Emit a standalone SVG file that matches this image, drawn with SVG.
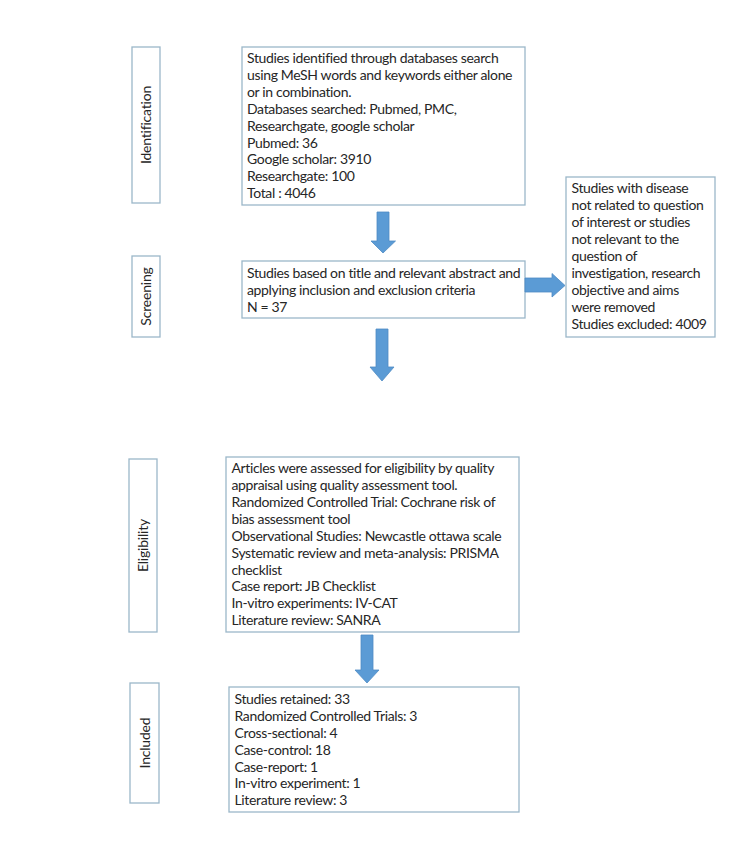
<svg xmlns="http://www.w3.org/2000/svg" width="750" height="844" viewBox="0 0 750 844">
<style>
.box{fill:#fff;stroke:#9BB7C9;stroke-width:1.3}
.t{font-family:Lato,"Liberation Sans",sans-serif;font-size:14px;letter-spacing:-0.35px;fill:#262626}
.lbl{font-family:Lato,"Liberation Sans",sans-serif;font-size:14px;letter-spacing:-0.2px;fill:#262626;text-anchor:middle}
.arr{fill:#5B9BD5;stroke:#4F8CC4;stroke-width:0.8}
</style>
<rect width="750" height="844" fill="#fff"/>
<g id="label-identification">
<rect class="box" x="132" y="47" width="28" height="156"/>
<text class="lbl" transform="translate(151,125) rotate(-90)">Identification</text>
</g>
<g id="label-screening">
<rect class="box" x="132" y="256" width="28" height="81"/>
<text class="lbl" transform="translate(151,296.5) rotate(-90)">Screening</text>
</g>
<g id="label-eligibility">
<rect class="box" x="129" y="459" width="28" height="173"/>
<text class="lbl" transform="translate(148,545.5) rotate(-90)">Eligibility</text>
</g>
<g id="label-included">
<rect class="box" x="130" y="683" width="29" height="120"/>
<text class="lbl" transform="translate(149.5,743) rotate(-90)">Included</text>
</g>
<g id="identified">
<rect class="box" x="242" y="47" width="283" height="158"/>
<text class="t" x="247" y="63">Studies identified through databases search</text>
<text class="t" x="247" y="79.9">using MeSH words and keywords either alone</text>
<text class="t" x="247" y="96.8">or in combination.</text>
<text class="t" x="247" y="113.7">Databases searched: Pubmed, PMC,</text>
<text class="t" x="247" y="130.6">Researchgate, google scholar</text>
<text class="t" x="247" y="147.5">Pubmed: 36</text>
<text class="t" x="247" y="164.4">Google scholar: 3910</text>
<text class="t" x="247" y="181.3">Researchgate: 100</text>
<text class="t" x="247" y="198.2">Total : 4046</text>
</g>
<g id="screening">
<rect class="box" x="242" y="261" width="283" height="57"/>
<text class="t" x="247" y="278">Studies based on title and relevant abstract and</text>
<text class="t" x="247" y="295">applying inclusion and exclusion criteria</text>
<text class="t" x="247" y="312">N = 37</text>
</g>
<g id="excluded">
<rect class="box" x="566" y="177" width="149" height="160"/>
<text class="t" x="571.5" y="193.3">Studies with disease</text>
<text class="t" x="571.5" y="210.2">not related to question</text>
<text class="t" x="571.5" y="227.1">of interest or studies</text>
<text class="t" x="571.5" y="244">not relevant to the</text>
<text class="t" x="571.5" y="260.9">question of</text>
<text class="t" x="571.5" y="277.8">investigation, research</text>
<text class="t" x="571.5" y="294.7">objective and aims</text>
<text class="t" x="571.5" y="311.6">were removed</text>
<text class="t" x="571.5" y="328.5">Studies excluded: 4009</text>
</g>
<g id="eligibility">
<rect class="box" x="226" y="457" width="293" height="175"/>
<text class="t" x="231.5" y="473.3">Articles were assessed for eligibility by quality</text>
<text class="t" x="231.5" y="490.2">appraisal using quality assessment tool.</text>
<text class="t" x="231.5" y="507">Randomized Controlled Trial: Cochrane risk of</text>
<text class="t" x="231.5" y="523.9">bias assessment tool</text>
<text class="t" x="231.5" y="540.7">Observational Studies: Newcastle ottawa scale</text>
<text class="t" x="231.5" y="557.6">Systematic review and meta-analysis: PRISMA</text>
<text class="t" x="231.5" y="574.5">checklist</text>
<text class="t" x="231.5" y="591.3">Case report: JB Checklist</text>
<text class="t" x="231.5" y="608.2">In-vitro experiments: IV-CAT</text>
<text class="t" x="231.5" y="625">Literature review: SANRA</text>
</g>
<g id="included">
<rect class="box" x="229" y="687" width="290" height="125"/>
<text class="t" x="234.5" y="704.3">Studies retained: 33</text>
<text class="t" x="234.5" y="721.1">Randomized Controlled Trials: 3</text>
<text class="t" x="234.5" y="737.9">Cross-sectional: 4</text>
<text class="t" x="234.5" y="754.7">Case-control: 18</text>
<text class="t" x="234.5" y="771.5">Case-report: 1</text>
<text class="t" x="234.5" y="788.3">In-vitro experiment: 1</text>
<text class="t" x="234.5" y="805.1">Literature review: 3</text>
</g>
<g id="connectors">
<polygon class="arr" points="377,212 389,212 389,241 395.5,241 383,253 371,241 377,241"/>
<polygon class="arr" points="525,278 552,278 552,273.5 565,285.5 552,297 552,292 525,292"/>
<polygon class="arr" points="376,329 388,329 388,367 394,367 382,381 370,367 376,367"/>
<polygon class="arr" points="361,635 373,635 373,670 379,670 367,683 355,670 361,670"/>
</g>
</svg>
